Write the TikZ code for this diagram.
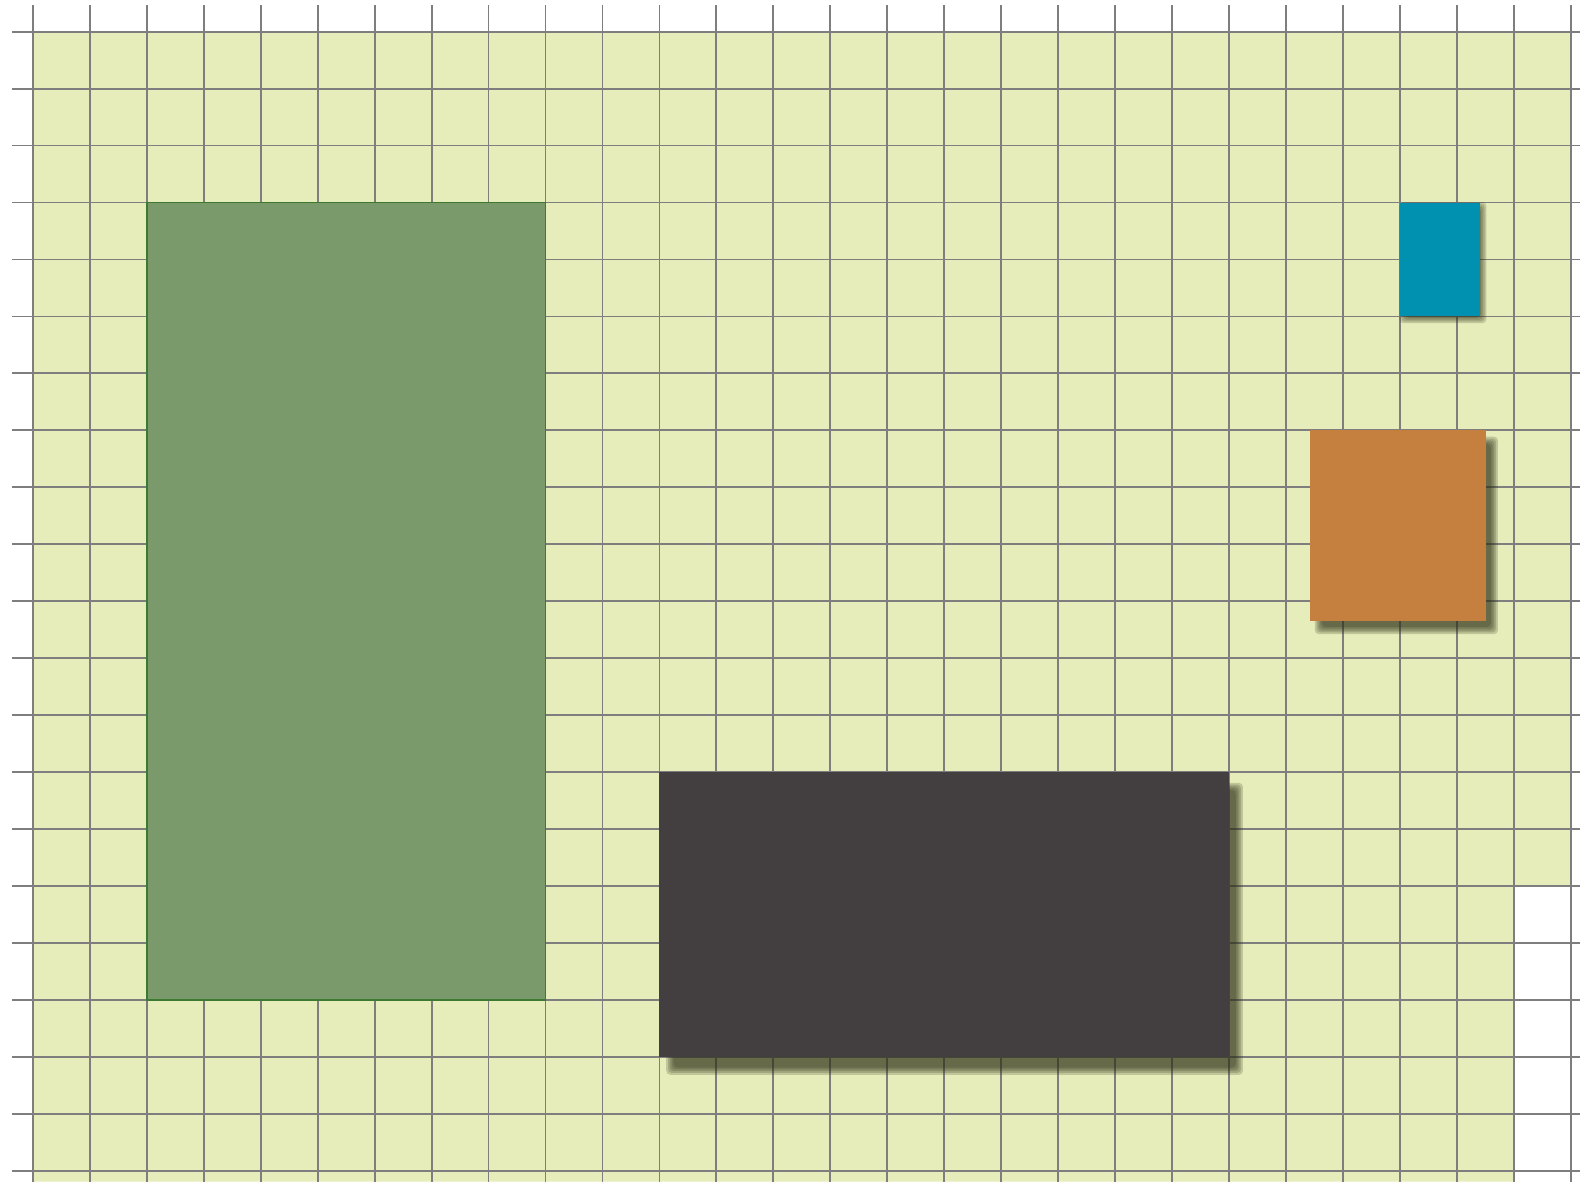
\documentclass[tikz,border=0pt]{standalone}
\usepackage{xcolor}
\usepackage{tikz}
\usetikzlibrary{calc}
\definecolor{ppaper}{HTML}{E6ECBA}
\definecolor{pgrid}{HTML}{7E7E7E}
\definecolor{pgreen}{HTML}{7A9A6B}
\definecolor{pgreend}{HTML}{3C7A32}
\definecolor{pteal}{HTML}{0090B0}
\definecolor{porange}{HTML}{C57F3E}
\definecolor{pdark}{HTML}{433E40}
\definecolor{pshade}{HTML}{2A2E14}
\tikzset{
  % paper and grid
  paper/.style    = {fill=ppaper},
  gridline/.style = {pgrid, line width=0.45pt},
  % coloured blocks
  greenblk/.style  = {fill=pgreen, draw=pgreend, line width=0.4pt},
  tealblk/.style   = {fill=pteal},
  orangeblk/.style = {fill=porange},
  darkblk/.style   = {fill=pdark},
  shade/.style     = {fill=pshade, opacity=0.2, rounded corners=1pt},
}
% soft shadow: lower-left corner, upper-right corner, x shift, y shift (pt)
\newcommand{\softshade}[4]{%
  \foreach \k in {0,...,4} {
    \fill[shade] ($(#1)+(#3pt,#4pt)+(\k*0.45pt-0.9pt,\k*0.45pt-0.9pt)$)
      rectangle ($(#2)+(#3pt,#4pt)-(\k*0.45pt-0.9pt,\k*0.45pt-0.9pt)$);
  }}

\begin{document}
\begin{tikzpicture}[x=0.5cm,y=0.5cm]
\useasboundingbox (-0.579,-0.193) rectangle (27.164,20.556);
% paper
\fill[paper] (0,-0.193) -- (0,20) -- (27,20) -- (27,5) -- (26,5) -- (26,-0.193) -- cycle;
% grid
\foreach \x in {0,...,27} {\draw[gridline] (\x,-0.193) -- (\x,20.47);}
\foreach \y in {0,...,20} {\draw[gridline] (-0.369,\y) -- (27.164,\y);}
% shadows
\softshade{24,15}{25.4,17}{0.8}{-0.8}
\softshade{22.43,9.66}{25.52,13}{2}{-2.5}
\softshade{11,2}{21,7}{2.6}{-3.6}
% blocks
\draw[greenblk] (2,3) rectangle (9,17);
\path[tealblk] (24,15) rectangle (25.4,17);
\path[orangeblk] (22.43,9.66) rectangle (25.52,13);
\path[darkblk] (11,2) rectangle (21,7);
\end{tikzpicture}
\end{document}
